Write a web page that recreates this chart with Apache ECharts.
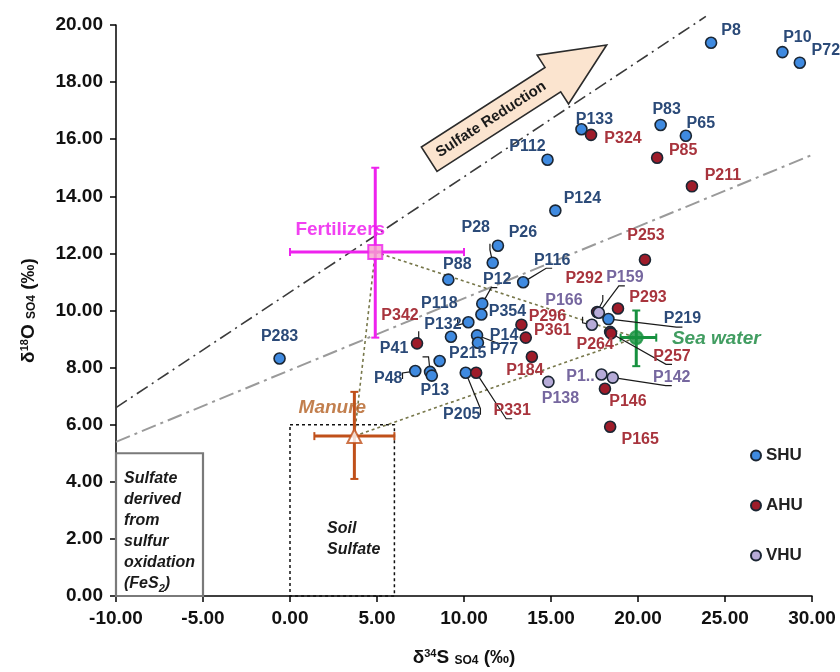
<!DOCTYPE html>
<html>
<head>
<meta charset="utf-8">
<title>d34S vs d18O of sulfate</title>
<script src="https://cdn.jsdelivr.net/npm/echarts@6/dist/echarts.min.js"></script>
<style>
  html, body { margin: 0; padding: 0; background: #fff; }
  #chart { width: 840px; height: 672px; }
</style>
</head>
<body>
<div id="chart"></div>
<script>
// samples by hydrogeological unit (d34S, d18O of SO4, permil)
const shuNames = ['P8', 'P10', 'P72', 'P133', 'P112', 'P83', 'P65', 'P124', 'P28', 'P26', 'P88', 'P116', 'P12',
  'P354', 'P118', 'P132', 'P14', 'P77', 'P215', 'P41', 'P48', 'P13', 'P205', 'P283', 'P219'];
const shuX = [24.2, 28.3, 29.3, 16.75, 14.8, 21.3, 22.75, 15.25, 11.65, 11.95, 9.1, 13.4, 11.05,
  11.0, 10.25, 9.25, 10.75, 10.8, 8.6, 8.05, 7.2, 8.15, 10.1, -0.6, 18.3];
const shuY = [19.38, 19.05, 18.68, 16.35, 15.28, 16.5, 16.12, 13.5, 11.67, 12.27, 11.08, 10.99, 10.24,
  9.86, 9.59, 9.08, 9.13, 8.87, 8.23, 7.85, 7.88, 7.72, 7.82, 8.32, 9.7];

const ahuNames = ['P324', 'P85', 'P211', 'P253', 'P293', 'P292', 'P264', 'P257', 'P342', 'P296', 'P361',
  'P184', 'P331', 'P146', 'P165'];
const ahuX = [17.3, 21.1, 23.1, 20.4, 18.85, 17.65, 18.4, 18.45, 7.3, 13.3, 13.55, 13.9, 10.7, 18.1, 18.4];
const ahuY = [16.15, 15.35, 14.35, 11.78, 10.07, 9.95, 9.25, 9.2, 8.85, 9.5, 9.05, 8.38, 7.82, 7.26, 5.93];

const vhuNames = ['P166', 'P159', 'P138', 'P1..', 'P142'];
const vhuX = [17.35, 17.75, 14.85, 17.9, 18.55];
const vhuY = [9.5, 9.92, 7.5, 7.76, 7.65];

// end members with their ranges
const sourceNames = ['Fertilizers', 'Manure', 'Sea water'];
const sourceX = [4.9, 3.7, 19.9];
const sourceY = [12.05, 5.6, 9.05];
const sourceXLow = [0.0, 1.4, 19.0];
const sourceXHigh = [10.0, 6.0, 21.05];
const sourceYLow = [9.05, 4.1, 8.05];
const sourceYHigh = [15.0, 7.15, 10.0];

// trend lines
const upperLineX = [-10, 23.9];
const upperLineY = [6.6, 20.3];
const lowerLineX = [-10, 30];
const lowerLineY = [5.4, 15.45];

// boxes [x0, y0, x1, y1]
const pyriteBox = [-10, 0, -5, 5];
const soilBox = [0, 0, 6, 6];

// sulfate reduction arrow [tailX, tailY, tipX, tipY]
const arrowLine = [8.0, 15.3, 18.2, 19.3];

const xTicks = [-10, -5, 0, 5, 10, 15, 20, 25, 30];
const yTicks = [0, 2, 4, 6, 8, 10, 12, 14, 16, 18, 20];

const FONT = '"Liberation Sans", Arial, sans-serif';

// where each label sits, px from the point centre to the label centre
const labelOffsets = {
  P8: [20, -12], P10: [15, -15], P72: [26, -12], P133: [13, -10], P112: [-20, -13], P83: [6, -15],
  P65: [15, -12], P124: [27, -12], P28: [-17, -35], P26: [25, -13], P88: [9, -15], P116: [29, -22],
  P12: [15, -24], P354: [26, -3], P118: [-29, -19], P132: [-8, -12], P14: [27, 0], P77: [26, 7],
  P215: [28, -7], P41: [-36, -23], P48: [-27, 8], P13: [3, 15], P205: [-4, 42], P283: [0, -22],
  P219: [74, 0],
  P324: [32, 4], P85: [26, -7], P211: [31, -11], P253: [1, -24], P293: [30, -11], P292: [-13, -33],
  P264: [-15, 13], P257: [61, 23], P342: [-17, -28], P296: [26, -8], P361: [27, -7], P184: [-7, 14],
  P331: [36, 38], P146: [23, 13], P165: [30, 13],
  P166: [-28, -24], P159: [26, -35], P138: [12, 17], 'P1..': [-21, 2], P142: [59, 0]
};
// labels joined to their point by a short line
const leaderLabels = ['P28', 'P116', 'P12', 'P118', 'P14', 'P41', 'P48', 'P205', 'P219',
  'P292', 'P257', 'P342', 'P331', 'P166', 'P159', 'P142'];

function samplePoints(names, xs, ys) {
  return names.map(function (n, i) {
    return {
      name: n,
      value: [xs[i], ys[i]],
      label: { offset: labelOffsets[n] || [18, -10] },
      labelLine: { show: leaderLabels.indexOf(n) >= 0 }
    };
  });
}

function sampleSeries(name, names, xs, ys, fill, labelColor) {
  return {
    name: name,
    type: 'scatter',
    z: 10,
    symbolSize: 11,
    data: samplePoints(names, xs, ys),
    itemStyle: { color: fill, borderColor: '#1b2633', borderWidth: 1.6, opacity: 1 },
    label: {
      show: true, position: 'inside', formatter: '{b}', color: labelColor,
      fontFamily: FONT, fontWeight: 'bold', fontSize: 16, textBorderWidth: 0
    },
    labelLine: { length2: 6, lineStyle: { color: '#1a1a1a', width: 1.2 } },
    emphasis: { disabled: true }
  };
}

const sourceColors = ['#ee22ee', '#c0501a', '#17913f'];
const sourceSymbols = ['rect', 'triangle', 'circle'];
const sourceFills = ['#f5a3cc', '#ffffff', '#17913f'];
const sourceLabels = [
  { offset: [-35, -22], color: '#ee11ee', fontStyle: 'normal' },
  { offset: [-22, -28], color: '#b35f22', fontStyle: 'italic' },
  { offset: [80, 1], color: '#12843a', fontStyle: 'italic' }
];

const chartDom = document.getElementById('chart');
const myChart = echarts.init(chartDom, null, { renderer: 'canvas' });

const option = {
  animation: false,
  backgroundColor: '#fff',
  grid: { left: 116, right: 28, top: 25, bottom: 75, containLabel: false },
  legend: {
    data: ['SHU', 'AHU', 'VHU'],
    orient: 'vertical',
    left: 745,
    top: 442,
    itemWidth: 10,
    itemHeight: 10,
    itemGap: 33,
    icon: 'circle',
    selectedMode: false,
    textStyle: { fontFamily: FONT, fontWeight: 'bold', fontSize: 17, color: '#222' }
  },
  xAxis: {
    type: 'value',
    min: xTicks[0],
    max: xTicks[xTicks.length - 1],
    interval: 5,
    name: 'δ{sup|34}S {sub|SO4} (‰)',
    nameLocation: 'middle',
    nameGap: 52,
    nameTextStyle: {
      fontFamily: FONT, fontSize: 19, fontWeight: 'bold', color: '#111',
      rich: {
        sup: { fontFamily: FONT, fontSize: 11, fontWeight: 'bold', verticalAlign: 'top', color: '#111' },
        sub: { fontFamily: FONT, fontSize: 12, fontWeight: 'bold', verticalAlign: 'bottom', color: '#111' }
      }
    },
    axisLine: { onZero: false, lineStyle: { color: '#000', width: 1.5 } },
    axisTick: { show: true, inside: false, length: 6, lineStyle: { color: '#000', width: 1.5 } },
    axisLabel: {
      margin: 13, color: '#111', fontFamily: FONT, fontWeight: 'bold', fontSize: 19,
      formatter: function (v) { return v.toFixed(2); }
    },
    splitLine: { show: false }
  },
  yAxis: {
    type: 'value',
    min: yTicks[0],
    max: yTicks[yTicks.length - 1],
    interval: 2,
    name: 'δ{sup|18}O {sub|SO4} (‰)',
    nameLocation: 'middle',
    nameGap: 78,
    nameTextStyle: {
      fontFamily: FONT, fontSize: 19, fontWeight: 'bold', color: '#111',
      rich: {
        sup: { fontFamily: FONT, fontSize: 11, fontWeight: 'bold', verticalAlign: 'top', color: '#111' },
        sub: { fontFamily: FONT, fontSize: 12, fontWeight: 'bold', verticalAlign: 'bottom', color: '#111' }
      }
    },
    axisLine: { show: true, onZero: false, lineStyle: { color: '#000', width: 1.5 } },
    axisTick: { show: true, inside: false, length: 6, lineStyle: { color: '#000', width: 1.5 } },
    axisLabel: {
      margin: 13, color: '#111', fontFamily: FONT, fontWeight: 'bold', fontSize: 19,
      formatter: function (v) { return v.toFixed(2); }
    },
    splitLine: { show: false }
  },
  series: [
    // upper dash-dot line
    {
      type: 'line', z: 1, silent: true, clip: false, symbol: 'none',
      data: upperLineX.map(function (x, i) { return [x, upperLineY[i]]; }),
      lineStyle: { color: '#3a3a3a', width: 1.6, type: [13, 5, 2, 5] }
    },
    // lower dash-dot line
    {
      type: 'line', z: 1, silent: true, clip: false, symbol: 'none',
      data: lowerLineX.map(function (x, i) { return [x, lowerLineY[i]]; }),
      lineStyle: { color: '#9a9a9a', width: 2, type: [15, 5, 3, 5] }
    },
    // boxes: pyrite oxidation and soil sulfate
    {
      type: 'custom', z: 1, silent: true,
      data: [pyriteBox, soilBox],
      encode: { x: [0, 2], y: [1, 3] },
      renderItem: function (params, api) {
        const p0 = api.coord([api.value(0), api.value(3)]);
        const p1 = api.coord([api.value(2), api.value(1)]);
        const rect = { x: p0[0], y: p0[1], width: p1[0] - p0[0], height: p1[1] - p0[1] };
        if (params.dataIndex === 0) {
          return {
            type: 'group', children: [
              { type: 'rect', shape: rect, style: { fill: 'none', stroke: '#7a7a7a', lineWidth: 2.2 } },
              {
                type: 'text', x: p0[0] + 8, y: p0[1] + 15,
                style: {
                  text: 'Sulfate\nderived\nfrom\nsulfur\noxidation\n(FeS{s|2})',
                  fontFamily: FONT, fontSize: 16, fontWeight: 'bold', fontStyle: 'italic',
                  fill: '#1a1a1a', lineHeight: 21, align: 'left', verticalAlign: 'top',
                  rich: { s: { fontSize: 11, fontWeight: 'bold', fontStyle: 'italic', verticalAlign: 'bottom' } }
                }
              }
            ]
          };
        }
        return {
          type: 'group', children: [
            { type: 'rect', shape: rect, style: { fill: 'none', stroke: '#111', lineWidth: 1.5, lineDash: [3, 3] } },
            {
              type: 'text', x: p0[0] + 37, y: p0[1] + 93,
              style: {
                text: 'Soil\nSulfate', fontFamily: FONT, fontSize: 16, fontWeight: 'bold', fontStyle: 'italic',
                fill: '#1a1a1a', lineHeight: 21, align: 'left', verticalAlign: 'top'
              }
            }
          ]
        };
      }
    },
    // sulfate reduction arrow
    {
      type: 'custom', z: 2, silent: true,
      data: [arrowLine],
      encode: { x: [0, 2], y: [1, 3] },
      renderItem: function (params, api) {
        const a = api.coord([api.value(0), api.value(1)]);
        const b = api.coord([api.value(2), api.value(3)]);
        const dx = b[0] - a[0], dy = b[1] - a[1];
        const len = Math.sqrt(dx * dx + dy * dy);
        const ux = dx / len, uy = dy / len;
        const nx = -uy, ny = ux;
        const bodyW = 14.5, headW = 29, headL = 64;
        const base = [b[0] - ux * headL, b[1] - uy * headL];
        const pts = [
          [a[0] + nx * bodyW, a[1] + ny * bodyW],
          [base[0] + nx * bodyW, base[1] + ny * bodyW],
          [base[0] + nx * headW, base[1] + ny * headW],
          b,
          [base[0] - nx * headW, base[1] - ny * headW],
          [base[0] - nx * bodyW, base[1] - ny * bodyW],
          [a[0] - nx * bodyW, a[1] - ny * bodyW]
        ];
        return {
          type: 'group', children: [
            { type: 'polygon', shape: { points: pts }, style: { fill: '#fbe4cf', stroke: '#2b2b2b', lineWidth: 1.6 } },
            {
              type: 'text', x: (a[0] + base[0]) / 2, y: (a[1] + base[1]) / 2,
              rotation: -Math.atan2(dy, dx),
              style: {
                text: 'Sulfate Reduction', fontFamily: FONT, fontSize: 15, fontWeight: 'bold',
                fill: '#1a1a1a', align: 'center', verticalAlign: 'middle'
              }
            }
          ]
        };
      }
    },
    // mixing triangle between end members
    {
      type: 'line', z: 3, silent: true, symbol: 'none',
      data: [0, 2, 1, 0].map(function (i) { return [sourceX[i], sourceY[i]]; }),
      lineStyle: { color: '#77774a', width: 1.6, type: [3, 3] }
    },
    // end member error bars
    {
      type: 'custom', z: 4, silent: true,
      data: sourceNames.map(function (n, i) {
        return [sourceX[i], sourceY[i], sourceXLow[i], sourceXHigh[i], sourceYLow[i], sourceYHigh[i]];
      }),
      encode: { x: [0, 2, 3], y: [1, 4, 5] },
      renderItem: function (params, api) {
        const c = sourceColors[params.dataIndex];
        const l = api.coord([api.value(2), api.value(1)]);
        const r = api.coord([api.value(3), api.value(1)]);
        const t = api.coord([api.value(0), api.value(5)]);
        const bt = api.coord([api.value(0), api.value(4)]);
        const cap = 4;
        const st = { stroke: c, lineWidth: 3 };
        const cs = { stroke: c, lineWidth: 2 };
        return {
          type: 'group', children: [
            { type: 'line', shape: { x1: l[0], y1: l[1], x2: r[0], y2: r[1] }, style: st },
            { type: 'line', shape: { x1: t[0], y1: t[1], x2: bt[0], y2: bt[1] }, style: st },
            { type: 'line', shape: { x1: l[0], y1: l[1] - cap, x2: l[0], y2: l[1] + cap }, style: cs },
            { type: 'line', shape: { x1: r[0], y1: r[1] - cap, x2: r[0], y2: r[1] + cap }, style: cs },
            { type: 'line', shape: { x1: t[0] - cap, y1: t[1], x2: t[0] + cap, y2: t[1] }, style: cs },
            { type: 'line', shape: { x1: bt[0] - cap, y1: bt[1], x2: bt[0] + cap, y2: bt[1] }, style: cs }
          ]
        };
      }
    },
    // end member markers and names
    {
      type: 'scatter', z: 5, silent: true,
      data: sourceNames.map(function (n, i) {
        return {
          name: n,
          value: [sourceX[i], sourceY[i]],
          symbol: sourceSymbols[i],
          symbolSize: i === 2 ? 13 : 14,
          itemStyle: { color: sourceFills[i], borderColor: sourceColors[i], borderWidth: 2 },
          label: {
            offset: sourceLabels[i].offset,
            color: sourceLabels[i].color,
            fontStyle: sourceLabels[i].fontStyle
          }
        };
      }),
      label: {
        show: true, position: 'inside', formatter: '{b}', fontFamily: FONT, fontWeight: 'bold',
        fontSize: 19, textBorderWidth: 0
      },
      emphasis: { disabled: true }
    },
    sampleSeries('SHU', shuNames, shuX, shuY, '#3f8ae0', '#2b4a78'),
    sampleSeries('AHU', ahuNames, ahuX, ahuY, '#9e1c2a', '#a8343d'),
    sampleSeries('VHU', vhuNames, vhuX, vhuY, '#b6abd8', '#76679f')
  ]
};

myChart.setOption(option);
</script>
</body>
</html>
